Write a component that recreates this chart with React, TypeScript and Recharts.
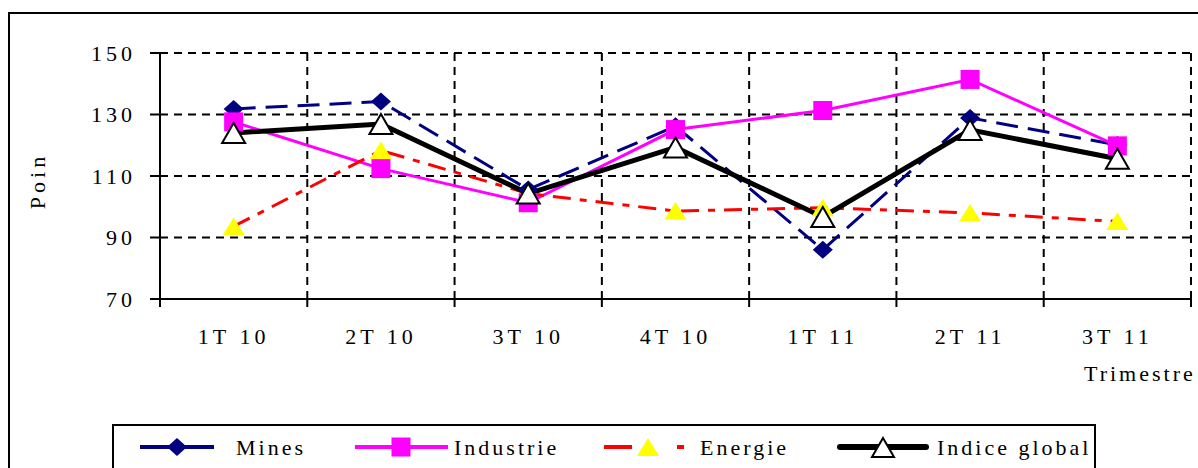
import { CartesianGrid, Line, LineChart, XAxis, YAxis } from "recharts";

const categories = ["1T 10", "2T 10", "3T 10", "4T 10", "1T 11", "2T 11", "3T 11"];
const mines = [131.8, 134.2, 105.6, 126.2, 86, 128.9, 120.1];
const industrie = [127.6, 112.4, 101.3, 125.1, 131.3, 141.4, 119.8];
const energie = [93.6, 118.3, 104.3, 98.6, 99.7, 98, 95.2];
const indiceGlobal = [124, 126.9, 104.3, 119.3, 96.7, 125, 115.6];
const yTicks = [70, 90, 110, 130, 150];

const rows = categories.map((cat, i) => ({
  x: i + 0.5,
  cat,
  mines: mines[i],
  industrie: industrie[i],
  energie: energie[i],
  indice: indiceGlobal[i],
}));
const boundaryTicks = Array.from({ length: categories.length + 1 }, (_, i) => i);
const centerTicks = categories.map((_, i) => i + 0.5);

const serif = "'Times New Roman', Times, 'Liberation Serif', 'DejaVu Serif', 'Noto Serif', serif";
const axisTick = { fill: "#000", fontSize: 22, fontFamily: serif };

const DiamondDot = (p: any) => {
  const { cx, cy, index } = p;
  if (cx == null || cy == null) return <g key={`md-${index}`} />;
  return (
    <polygon
      key={`md-${index}`}
      points={`${cx},${cy - 9} ${cx + 10},${cy} ${cx},${cy + 9} ${cx - 10},${cy}`}
      fill="#000080"
    />
  );
};

const SquareDot = (p: any) => {
  const { cx, cy, index } = p;
  if (cx == null || cy == null) return <g key={`sq-${index}`} />;
  return <rect key={`sq-${index}`} x={cx - 9.5} y={cy - 9.5} width={19} height={19} fill="#FF00FF" />;
};

const YellowTri = (p: any) => {
  const { cx, cy, index } = p;
  if (cx == null || cy == null) return <g key={`yt-${index}`} />;
  return (
    <polygon
      key={`yt-${index}`}
      points={`${cx},${cy - 9} ${cx + 11},${cy + 8.5} ${cx - 11},${cy + 8.5}`}
      fill="#FFFF00"
    />
  );
};

const HollowTri = (p: any) => {
  const { cx, cy, index } = p;
  if (cx == null || cy == null) return <g key={`ht-${index}`} />;
  return (
    <polygon
      key={`ht-${index}`}
      points={`${cx},${cy - 10} ${cx + 11.5},${cy + 10} ${cx - 11.5},${cy + 10}`}
      fill="#fff"
      stroke="#000"
      strokeWidth={2}
    />
  );
};

function LegendBox() {
  return (
    <svg
      width={1198}
      height={468}
      style={{ position: "absolute", left: 0, top: 0, pointerEvents: "none" }}
    >
      <rect x={113} y={425} width={982} height={44} fill="#fff" stroke="#000" strokeWidth={2} />
      <g fontSize={22} fill="#000" fontFamily={serif} style={{ letterSpacing: "3px" }}>
        <line x1={140} y1={447} x2={214} y2={447} stroke="#000080" strokeWidth={4} />
        <polygon points="177,438 187,447 177,456 167,447" fill="#000080" />
        <text x={236} y={455}>Mines</text>

        <line x1={355} y1={447} x2={448} y2={447} stroke="#FF00FF" strokeWidth={4} />
        <rect x={391.5} y={437.5} width={19} height={19} fill="#FF00FF" />
        <text x={454} y={455}>Industrie</text>

        <line x1={604} y1={447} x2={684} y2={447} stroke="#FF0000" strokeWidth={4} strokeDasharray="28 45 7" />
        <polygon points="648,438 659,456 637,456" fill="#FFFF00" />
        <text x={700} y={455}>Energie</text>

        <line x1={840} y1={447} x2={926} y2={447} stroke="#000" strokeWidth={6} strokeLinecap="round" />
        <polygon points="883,438 894,457 872,457" fill="#fff" stroke="#000" strokeWidth={2} />
        <text x={937} y={455}>Indice global</text>
      </g>
    </svg>
  );
}

export default function App() {
  return (
    <div
      style={{
        position: "absolute",
        left: 0,
        top: 0,
        width: 1198,
        height: 468,
        background: "#fff",
        overflow: "hidden",
        fontFamily: serif,
        letterSpacing: "4px",
      }}
    >
      <div
        style={{
          position: "absolute",
          left: 8,
          top: 12,
          width: 1220,
          height: 480,
          border: "2px solid #000",
        }}
      />
      <div style={{ position: "absolute", left: 0, top: 0 }}>
        <LineChart width={1198} height={468} data={rows} margin={{ top: 53, right: 7, left: 0, bottom: 99 }}>
          <CartesianGrid stroke="#000" strokeWidth={2} strokeDasharray="8 6" />
          <XAxis
            type="number"
            dataKey="x"
            domain={[0, categories.length]}
            ticks={boundaryTicks}
            interval={0}
            tickFormatter={() => ""}
            tickSize={8}
            height={10}
            axisLine={{ stroke: "#000", strokeWidth: 2 }}
            tickLine={{ stroke: "#000", strokeWidth: 2 }}
          />
          <XAxis
            xAxisId="lab"
            type="number"
            dataKey="x"
            domain={[0, categories.length]}
            ticks={centerTicks}
            interval={0}
            tickFormatter={(v: number) => categories[Math.floor(v)]}
            axisLine={false}
            tickLine={false}
            tickSize={0}
            tickMargin={19}
            height={60}
            tick={axisTick}
          />
          <YAxis
            type="number"
            domain={[70, 150]}
            ticks={yTicks}
            interval={0}
            width={160}
            tickSize={10}
            tickMargin={14}
            tick={axisTick}
            axisLine={{ stroke: "#000", strokeWidth: 2 }}
            tickLine={{ stroke: "#000", strokeWidth: 2 }}
          />
          <Line
            dataKey="mines"
            name="Mines"
            type="linear"
            stroke="#000080"
            strokeWidth={3}
            strokeDasharray="22 10"
            dot={DiamondDot}
            activeDot={false}
            isAnimationActive={false}
          />
          <Line
            dataKey="industrie"
            name="Industrie"
            type="linear"
            stroke="#FF00FF"
            strokeWidth={3}
            dot={SquareDot}
            activeDot={false}
            isAnimationActive={false}
          />
          <Line
            dataKey="energie"
            name="Energie"
            type="linear"
            stroke="#FF0000"
            strokeWidth={3}
            strokeDasharray="18 9 7 9"
            dot={YellowTri}
            activeDot={false}
            isAnimationActive={false}
          />
          <Line
            dataKey="indice"
            name="Indice global"
            type="linear"
            stroke="#000"
            strokeWidth={5}
            strokeLinecap="round"
            dot={HollowTri}
            activeDot={false}
            isAnimationActive={false}
          />
        </LineChart>
      </div>
      <div
        style={{
          position: "absolute",
          left: 38,
          top: 181,
          fontSize: 22,
          transform: "translate(-50%, -50%) rotate(-90deg)",
          whiteSpace: "nowrap",
          lineHeight: "24px",
        }}
      >
        Poin
      </div>
      <div
        style={{
          position: "absolute",
          left: 1084,
          top: 361,
          fontSize: 22,
          whiteSpace: "nowrap",
          lineHeight: "26px",
          letterSpacing: "3px",
        }}
      >
        Trimestre
      </div>
      <LegendBox />
    </div>
  );
}
